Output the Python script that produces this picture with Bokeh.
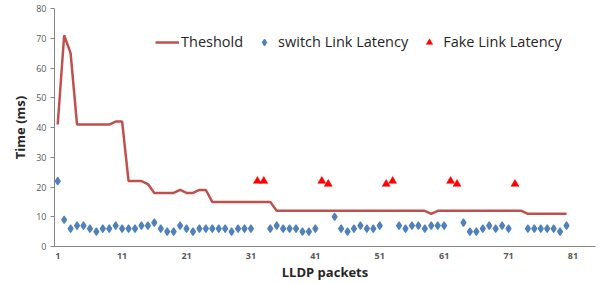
import numpy as np
from bokeh.plotting import figure
from bokeh.models import FixedTicker, Legend, LegendItem, Range1d
from bokeh.embed import file_html
from bokeh.resources import INLINE

packets = list(range(1, 81))

threshold = [41, 71, 65, 41, 41, 41, 41, 41, 41, 42,
             42, 22, 22, 22, 21, 18, 18, 18, 18, 19,
             18, 18, 19, 19, 15, 15, 15, 15, 15, 15,
             15, 15, 15, 15, 12, 12, 12, 12, 12, 12,
             12, 12, 12, 12, 12, 12, 12, 12, 12, 12,
             12, 12, 12, 12, 12, 12, 12, 12, 11, 12,
             12, 12, 12, 12, 12, 12, 12, 12, 12, 12,
             12, 12, 12, 11, 11, 11, 11, 11, 11, 11]

nan = float("nan")
switch_latency = [22, 9, 6, 7, 7, 6, 5, 6, 6, 7,
                  6, 6, 6, 7, 7, 8, 6, 5, 5, 7,
                  6, 5, 6, 6, 6, 6, 6, 5, 6, 6,
                  6, nan, nan, 6, 7, 6, 6, 6, 5, 5,
                  6, nan, nan, 10, 6, 5, 6, 7, 6, 6,
                  7, nan, nan, 7, 6, 7, 7, 6, 7, 7,
                  7, nan, nan, 8, 5, 5, 6, 7, 6, 7,
                  6, nan, nan, 6, 6, 6, 6, 6, 5, 7]

fake_packets = [32, 33, 42, 43, 52, 53, 62, 63, 72]
fake_latency = [22, 22, 22, 21, 21, 22, 22, 21, 21]

x_ticks = [1, 11, 21, 31, 41, 51, 61, 71, 81]
y_ticks = [0, 10, 20, 30, 40, 50, 60, 70, 80]

BLUE = "#4F81BD"
RED = "#FF0000"
LINE = "#C0504D"

p = figure(width=600, height=283, output_backend="svg", toolbar_location=None,
           x_range=Range1d(0.5, 84.5), y_range=Range1d(0, 80),
           min_border_left=54, min_border_right=5, min_border_top=8, min_border_bottom=0)
p.outline_line_color = None
p.xgrid.grid_line_color = None
p.ygrid.grid_line_color = None

r_thr = p.line(packets, threshold, line_color=LINE, line_width=2.5)
r_sw = p.scatter(packets, switch_latency, marker="diamond", size=7.5,
                 fill_color=BLUE, line_color=BLUE, line_width=1.2)
r_fk = p.scatter(fake_packets, fake_latency, marker="triangle", size=8,
                 fill_color=RED, line_color=RED, line_width=0.5)

axis_col = "#868686"
p.xaxis.ticker = FixedTicker(ticks=x_ticks)
p.yaxis.ticker = FixedTicker(ticks=y_ticks)
for ax in (p.xaxis[0], p.yaxis[0]):
    ax.axis_line_color = axis_col
    ax.major_tick_line_color = axis_col
    ax.minor_tick_line_color = None
    ax.major_label_text_color = "#595959"
    ax.major_label_text_font = "Open Sans"
    ax.major_label_text_font_size = "9px"
    ax.axis_label_text_font = "Open Sans"
    ax.axis_label_text_font_style = "bold"
    ax.axis_label_text_font_size = "13px"
    ax.axis_label_text_color = "#262626"
p.xaxis.major_tick_line_color = None
p.xaxis.major_tick_out = 0
p.xaxis.major_tick_in = 0
p.xaxis.major_label_text_font_style = "bold"
p.xaxis.major_label_standoff = 6
p.xaxis.axis_label = "LLDP packets"
p.xaxis.axis_label_standoff = 1
p.yaxis.major_tick_in = 0
p.yaxis.major_tick_out = 4
p.yaxis.major_label_standoff = 4
p.yaxis.axis_label = "Time (ms)"
p.yaxis.axis_label_standoff = 4

legend = Legend(items=[LegendItem(label="Theshold", renderers=[r_thr]),
                       LegendItem(label="switch Link Latency", renderers=[r_sw]),
                       LegendItem(label="Fake Link Latency", renderers=[r_fk])],
                orientation="horizontal", location=(101, 195),
                background_fill_alpha=0, border_line_color=None,
                padding=0, margin=0, spacing=9, label_standoff=2,
                glyph_width=24, glyph_height=16,
                label_text_font="Open Sans", label_text_font_size="14.5px",
                label_text_color="#262626")
p.add_layout(legend, "center")

open("out.html", "w").write(file_html(p, INLINE))
